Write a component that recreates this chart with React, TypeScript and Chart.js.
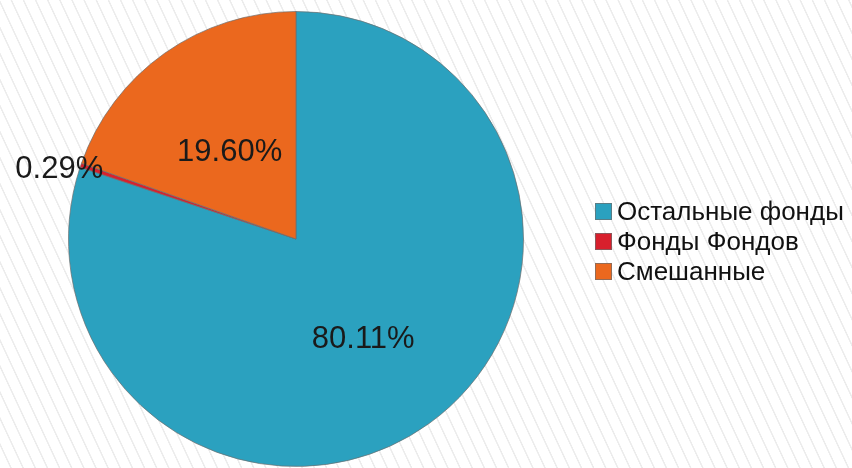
import React, { useEffect, useRef } from "react";
import { Chart, registerables } from "chart.js";

Chart.register(...registerables);

const categories = ["Остальные фонды", "Фонды Фондов", "Смешанные"];
const shares = [80.11, 0.29, 19.6];
const colors = ["#2ba1bf", "#d8202d", "#eb681e"];

const FONT = "'Liberation Sans', Arial, sans-serif";
const EDGE = "rgba(110,110,110,0.7)";

const labelPlugin = {
  id: "sliceLabels",
  afterDatasetsDraw(chart: any) {
    const ctx = chart.ctx;
    const meta = chart.getDatasetMeta(0);
    const total = shares.reduce((a, b) => a + b, 0);
    ctx.save();
    ctx.font = `31px ${FONT}`;
    ctx.fillStyle = "#1a1a1a";
    ctx.textAlign = "center";
    ctx.textBaseline = "middle";
    meta.data.forEach((arc: any, i: number) => {
      const { x, y, startAngle, endAngle, outerRadius } = arc.getProps(
        ["x", "y", "startAngle", "endAngle", "outerRadius"],
        true
      );
      const mid = (startAngle + endAngle) / 2;
      const pct = shares[i] / total;
      const outside = pct < 0.03;
      const r = outside ? outerRadius * 1.1 : outerRadius * 0.505;
      const lx = x + Math.cos(mid) * r;
      const ly = y + Math.sin(mid) * r + (outside ? 12 : 7);
      ctx.fillText(shares[i].toFixed(2) + "%", lx, ly);
    });
    ctx.restore();
  },
};

const legendPlugin = {
  id: "sideLegend",
  afterDraw(chart: any) {
    const ctx = chart.ctx;
    const box = 17;
    const rowH = 30;
    const x0 = 595;
    const top = 203;
    ctx.save();
    ctx.font = `26px ${FONT}`;
    ctx.textAlign = "left";
    ctx.textBaseline = "middle";
    categories.forEach((name, i) => {
      const by = top + i * rowH;
      ctx.fillStyle = colors[i];
      ctx.fillRect(x0, by, box, box);
      ctx.strokeStyle = EDGE;
      ctx.lineWidth = 1;
      ctx.strokeRect(x0 + 0.5, by + 0.5, box - 1, box - 1);
      ctx.fillStyle = "#111";
      ctx.fillText(name, x0 + box + 5, by + box / 2 + 1);
    });
    ctx.restore();
  },
};

export default function App() {
  const ref = useRef<HTMLCanvasElement>(null);
  useEffect(() => {
    document.body.style.margin = "0";
    const chart = new Chart(ref.current!, {
      type: "pie",
      data: {
        labels: categories,
        datasets: [
          {
            data: shares,
            backgroundColor: colors,
            borderColor: EDGE,
            borderWidth: 1,
          },
        ],
      },
      options: {
        animation: false,
        responsive: false,
        maintainAspectRatio: false,
        layout: { padding: { top: 11, bottom: 1, left: 0, right: 260 } },
        plugins: {
          tooltip: { enabled: false },
          legend: { display: false },
        },
      },
      plugins: [labelPlugin, legendPlugin],
    });
    return () => chart.destroy();
  }, []);
  return (
    <div
      style={{
        width: 852,
        height: 468,
        background:
          "repeating-linear-gradient(65deg, #ffffff 0px, #ffffff 9px, #ececec 9.5px, #ececec 10.5px, #ffffff 11px)",
      }}
    >
      <canvas ref={ref} width={852} height={468} style={{ display: "block" }} />
    </div>
  );
}
